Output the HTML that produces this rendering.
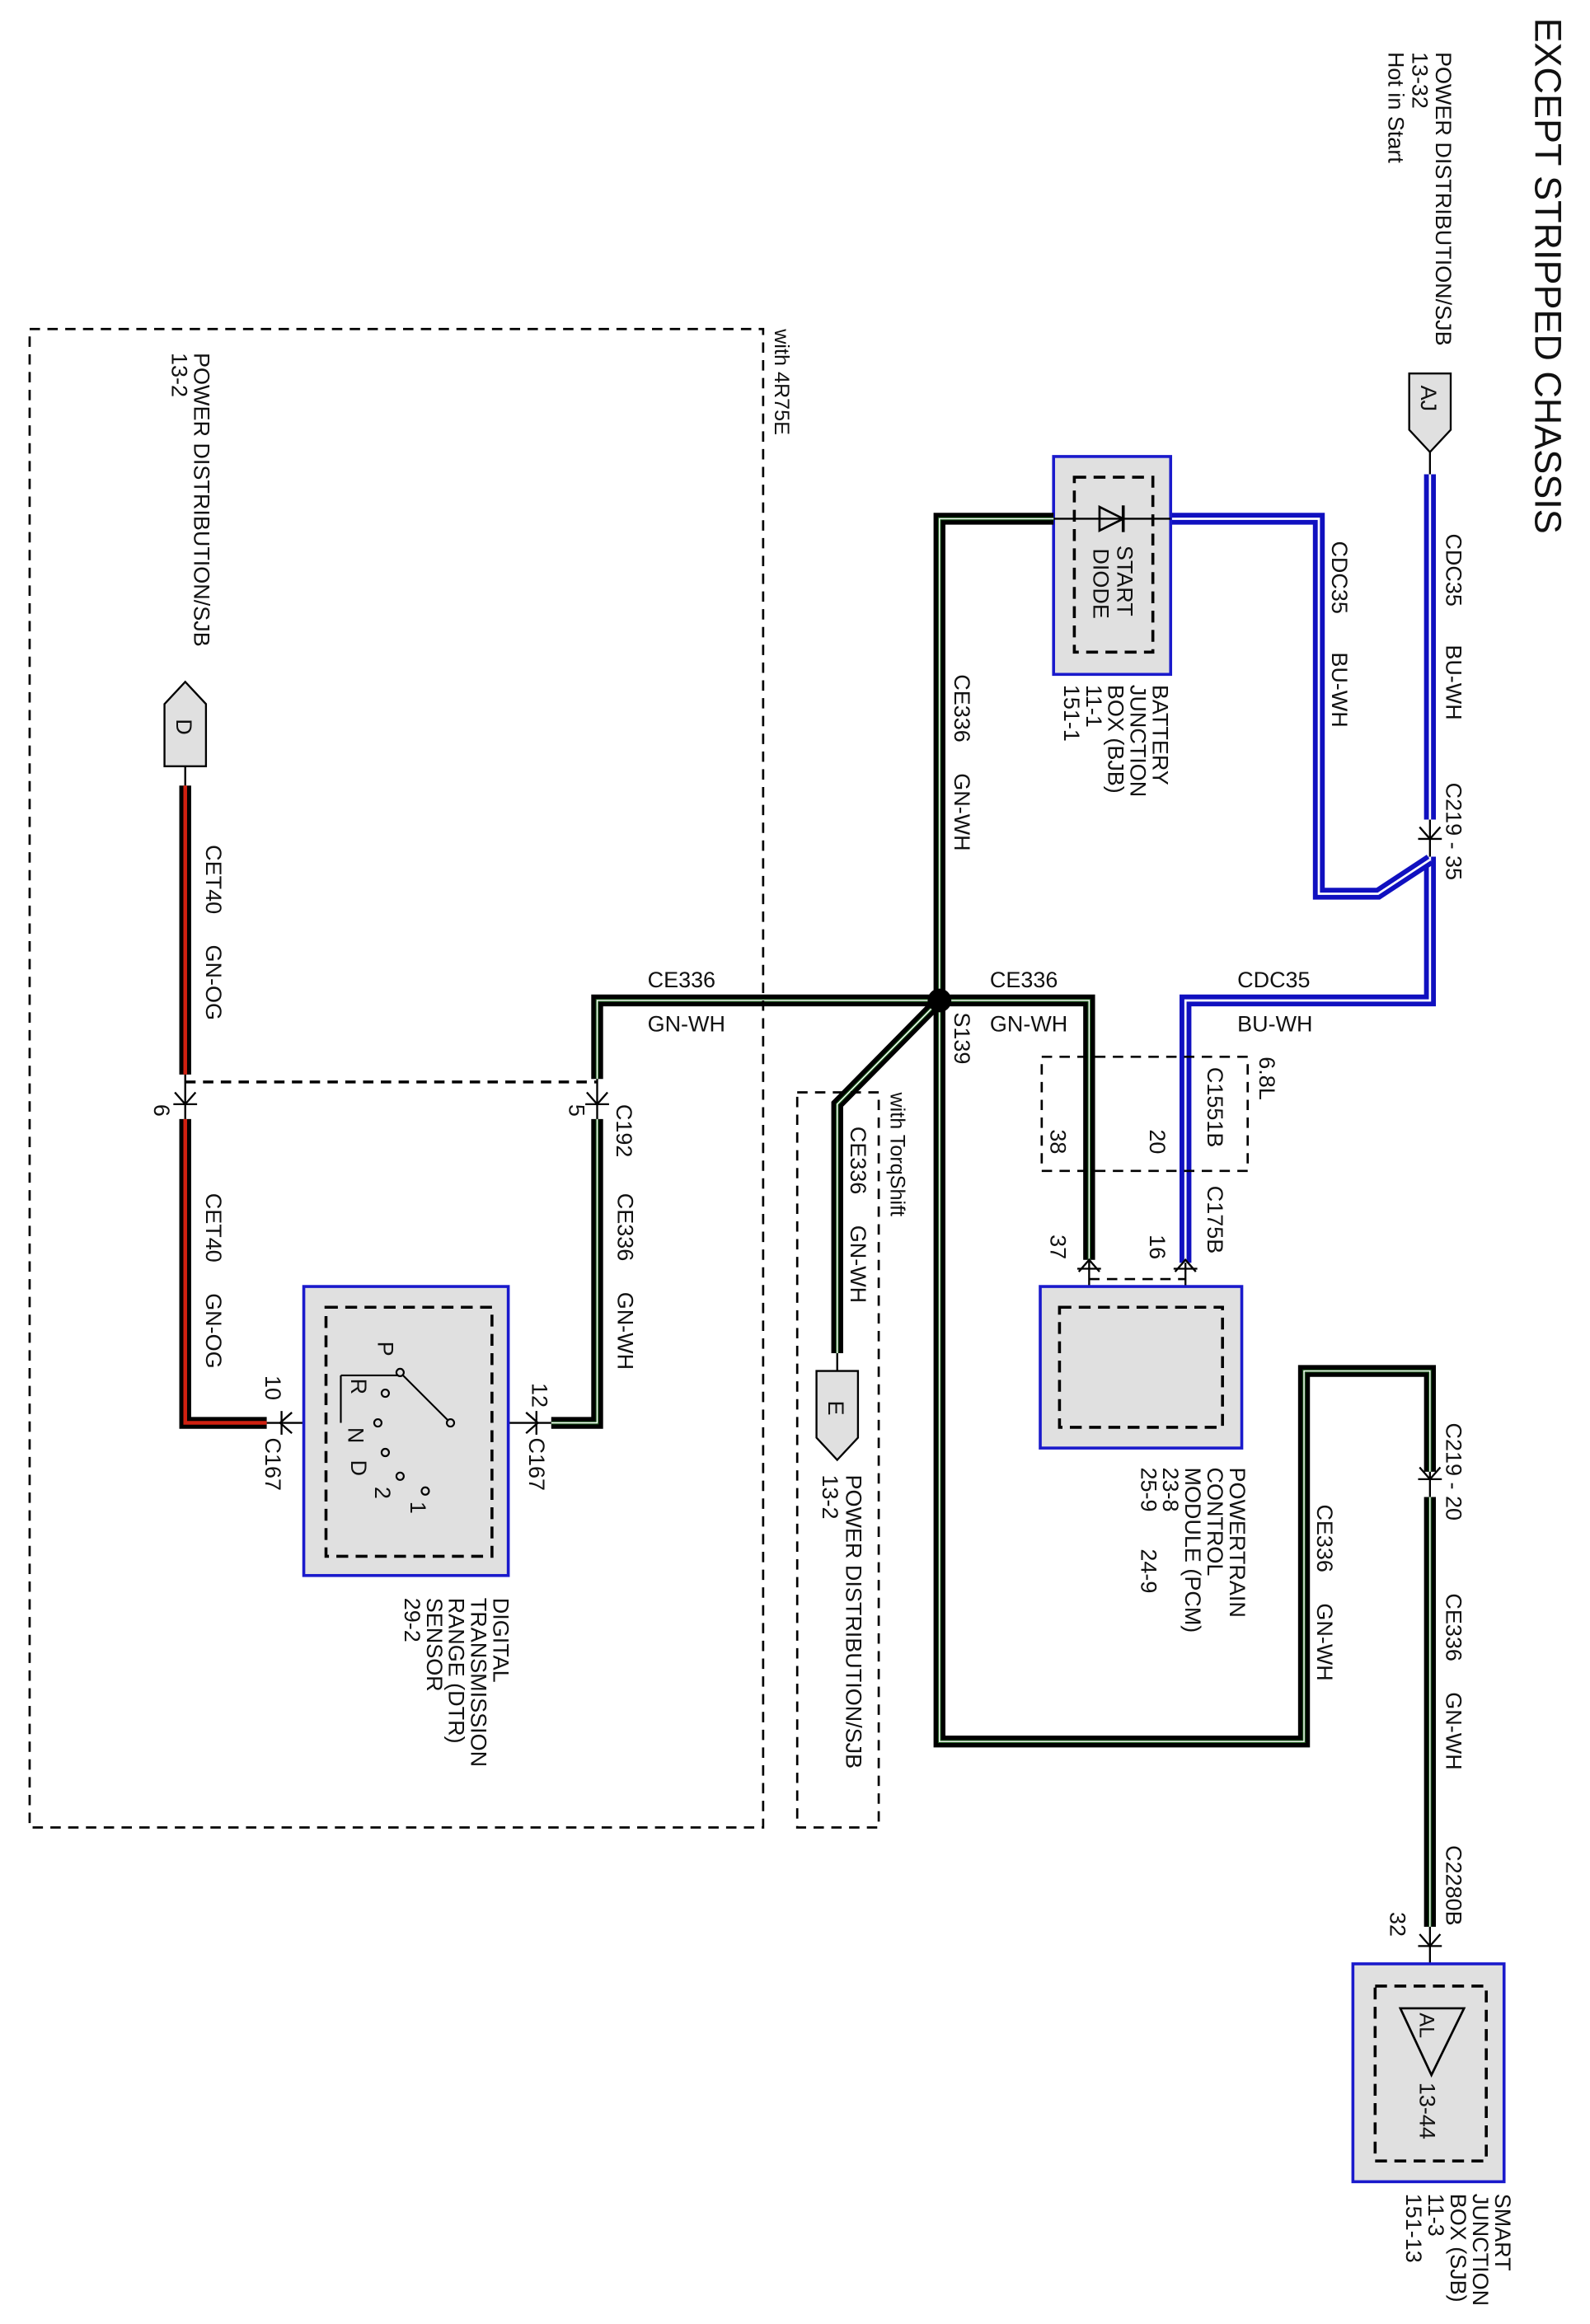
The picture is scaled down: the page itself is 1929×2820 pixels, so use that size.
<!DOCTYPE html>
<html><head><meta charset="utf-8"><style>
html,body{margin:0;padding:0;background:#fff}
svg{display:block}
text{font-family:"Liberation Sans",sans-serif;font-size:15px;fill:#111;white-space:pre}
.wb{fill:none;stroke:#000;stroke-width:8;stroke-linejoin:miter}
.wg{fill:none;stroke:#1f5f1f;stroke-width:2}
.wgw{fill:none;stroke:#fff;stroke-width:0.8}
.bb{fill:none;stroke:#1010c0;stroke-width:8}
.bw{fill:none;stroke:#fff;stroke-width:1.5}
.wr{fill:none;stroke:#d02010;stroke-width:2.5}
.d{fill:none;stroke:#000;stroke-width:1.5;stroke-dasharray:7,5}
.box{fill:#e0e0e0;stroke:#1a1acc;stroke-width:2}
.in{fill:none;stroke:#000;stroke-width:2;stroke-dasharray:8,5}
.t{fill:none;stroke:#000;stroke-width:1.3}
</style></head><body>
<svg width="1929" height="2820" viewBox="0 0 1073 1568" preserveAspectRatio="none" xmlns="http://www.w3.org/2000/svg" xml:space="preserve">
<rect width="1073" height="1568" fill="#fff"/>
<text transform="translate(1036,12) rotate(90)" style="font-size:25px">EXCEPT STRIPPED CHASSIS</text>
<text transform="translate(969,35) rotate(90)">POWER DISTRIBUTION/SJB</text>
<text transform="translate(953,35) rotate(90)">13-32</text>
<text transform="translate(937,35) rotate(90)">Hot in Start</text>
<path d="M951,252 H979 V290 L965,305 L951,290 Z" fill="#e0e0e0" stroke="#000" stroke-width="1.3"/>
<text transform="translate(959,260) rotate(90)">AJ</text>
<line x1="965" y1="305" x2="965" y2="320" class="t"/>
<path d="M965,320 V553" class="bb"/><path d="M965,320 V553" class="bw"/>
<path d="M965,578 V675 H800 V852" class="bb"/><path d="M965,578 V675 H800 V852" class="bw"/>
<path d="M790,350 H890 V603 H930 L965,580" class="bb"/><path d="M790,350 H890 V603 H930 L965,580" class="bw"/>
<line x1="965" y1="553" x2="965" y2="578" class="t"/>
<path d="M958,558 L965,566 L972,558" class="t"/><line x1="957" y1="566" x2="973" y2="566" class="t"/>
<text transform="translate(976,360) rotate(90)">CDC35</text>
<text transform="translate(976,435) rotate(90)">BU-WH</text>
<text transform="translate(976,528) rotate(90)">C219 - 35</text>
<text transform="translate(899,365) rotate(90)">CDC35</text>
<text transform="translate(899,440) rotate(90)">BU-WH</text>
<text x="835" y="666">CDC35</text>
<text x="835" y="696">BU-WH</text>
<rect x="711" y="308" width="79" height="147" class="box"/>
<rect x="725" y="322" width="53" height="118" class="in"/>
<line x1="711" y1="350" x2="790" y2="350" class="t"/>
<path d="M742,342 L758,350 L742,358 Z" fill="none" stroke="#000" stroke-width="1.5"/>
<line x1="758" y1="341" x2="758" y2="359" stroke="#000" stroke-width="2"/>
<text transform="translate(754,368) rotate(90)">START</text>
<text transform="translate(738,370) rotate(90)">DIODE</text>
<text transform="translate(778,462) rotate(90)">BATTERY</text>
<text transform="translate(763,462) rotate(90)">JUNCTION</text>
<text transform="translate(748,462) rotate(90)">BOX (BJB)</text>
<text transform="translate(733,462) rotate(90)">11-1</text>
<text transform="translate(718,462) rotate(90)">151-1</text>
<g>
<path d="M711,350 H634 V1175 H880 V925 H965 V993" class="wb"/><path d="M711,350 H634 V1175 H880 V925 H965 V993" class="wg"/><path d="M711,350 H634 V1175 H880 V925 H965 V993" class="wgw"/>
<path d="M965,1010 V1300" class="wb"/><path d="M965,1010 V1300" class="wg"/><path d="M965,1010 V1300" class="wgw"/>
<path d="M634,675 H735 V850" class="wb"/><path d="M634,675 H735 V850" class="wg"/><path d="M634,675 H735 V850" class="wgw"/>
<path d="M634,675 H403 V728" class="wb"/><path d="M634,675 H403 V728" class="wg"/><path d="M634,675 H403 V728" class="wgw"/>
<path d="M403,755 V960 H372" class="wb"/><path d="M403,755 V960 H372" class="wg"/><path d="M403,755 V960 H372" class="wgw"/>
<path d="M634,675 L565,745 V913" class="wb"/><path d="M634,675 L565,745 V913" class="wg"/><path d="M634,675 L565,745 V913" class="wgw"/>
</g>
<circle cx="634" cy="675" r="8" fill="#000"/>
<text transform="translate(644,455) rotate(90)">CE336     GN-WH</text>
<text transform="translate(644,683) rotate(90)">S139</text>
<text x="668" y="666">CE336</text><text x="668" y="696">GN-WH</text>
<text x="437" y="666">CE336</text><text x="437" y="696">GN-WH</text>
<line x1="965" y1="993" x2="965" y2="1010" class="t"/>
<path d="M958,990 L965,998 L972,990" class="t"/><line x1="957" y1="998" x2="973" y2="998" class="t"/>
<text transform="translate(976,960) rotate(90)">C219 - 20</text>
<text transform="translate(889,1015) rotate(90)">CE336     GN-WH</text>
<text transform="translate(976,1075) rotate(90)">CE336     GN-WH</text>
<text transform="translate(976,1245) rotate(90)">C2280B</text>
<text transform="translate(938,1290) rotate(90)">32</text>
<line x1="965" y1="1300" x2="965" y2="1355" class="t"/>
<path d="M958,1305 L965,1313 L972,1305" class="t"/><line x1="957" y1="1313" x2="973" y2="1313" class="t"/>
<rect x="913" y="1325" width="102" height="147" class="box"/>
<rect x="928" y="1340" width="75" height="118" class="in"/>
<path d="M945,1355 H988 L966,1400 Z" fill="none" stroke="#000" stroke-width="1.5"/>
<text transform="translate(958,1358) rotate(90)" style="font-size:14px">AL</text>
<text transform="translate(958,1405) rotate(90)">13-44</text>
<text transform="translate(1009,1480) rotate(90)">SMART</text>
<text transform="translate(994,1480) rotate(90)">JUNCTION</text>
<text transform="translate(979,1480) rotate(90)">BOX (SJB)</text>
<text transform="translate(964,1480) rotate(90)">11-3</text>
<text transform="translate(949,1480) rotate(90)">151-13</text>
<rect x="703" y="713" width="139" height="77" class="d"/>
<text transform="translate(850,713) rotate(90)">6.8L</text>
<text transform="translate(815,720) rotate(90)">C1551B</text>
<text transform="translate(776,762) rotate(90)">20</text>
<text transform="translate(709,762) rotate(90)">38</text>
<text transform="translate(815,800) rotate(90)">C175B</text>
<text transform="translate(776,833) rotate(90)">16</text>
<text transform="translate(709,833) rotate(90)">37</text>
<line x1="735" y1="850" x2="735" y2="882" class="t"/><line x1="800" y1="852" x2="800" y2="882" class="t"/>
<path d="M728,858 L735,850 L742,858" class="t"/><line x1="727" y1="856" x2="743" y2="856" class="t"/>
<path d="M793,858 L800,850 L807,858" class="t"/><line x1="792" y1="856" x2="808" y2="856" class="t"/>
<line x1="735" y1="863" x2="800" y2="863" class="d"/>
<rect x="702" y="868" width="136" height="109" class="box"/>
<rect x="715" y="882" width="110" height="81" class="in"/>
<text transform="translate(830,990) rotate(90)">POWERTRAIN</text>
<text transform="translate(815,990) rotate(90)">CONTROL</text>
<text transform="translate(800,990) rotate(90)">MODULE (PCM)</text>
<text transform="translate(785,990) rotate(90)">23-8</text>
<text transform="translate(770,1045) rotate(90)">24-9</text>
<text transform="translate(770,990) rotate(90)">25-9</text>
<rect x="538" y="737" width="55" height="496" class="d"/>
<text transform="translate(601,737) rotate(90)" style="font-size:14px">with TorqShift</text>
<text transform="translate(574,760) rotate(90)">CE336     GN-WH</text>
<line x1="565" y1="913" x2="565" y2="925" class="t"/>
<path d="M551,925 H579 V970 L565,985 L551,970 Z" fill="#e0e0e0" stroke="#000" stroke-width="1.3"/>
<text transform="translate(559,945) rotate(90)">E</text>
<text transform="translate(571,995) rotate(90)">POWER DISTRIBUTION/SJB</text>
<text transform="translate(555,995) rotate(90)">13-2</text>
<rect x="20" y="222" width="495" height="1011" class="d"/>
<text transform="translate(523,222) rotate(90)" style="font-size:14px">with 4R75E</text>
<text transform="translate(131,238) rotate(90)">POWER DISTRIBUTION/SJB</text>
<text transform="translate(116,238) rotate(90)">13-2</text>
<path d="M111,475 L125,460 L139,475 V517 H111 Z" fill="#e0e0e0" stroke="#000" stroke-width="1.3"/>
<text transform="translate(119,485) rotate(90)">D</text>
<line x1="125" y1="517" x2="125" y2="530" class="t"/>
<path d="M125,530 V725" class="wb"/><path d="M125,530 V725" class="wr"/>
<path d="M125,755 V960 H180" class="wb"/><path d="M125,755 V960 H180" class="wr"/>
<line x1="125" y1="725" x2="125" y2="755" class="t"/><line x1="403" y1="728" x2="403" y2="755" class="t"/>
<path d="M118,737 L125,745 L132,737" class="t"/><line x1="117" y1="745" x2="133" y2="745" class="t"/>
<path d="M396,737 L403,745 L410,737" class="t"/><line x1="395" y1="745" x2="411" y2="745" class="t"/>
<line x1="125" y1="730" x2="403" y2="730" stroke="#000" stroke-width="2" stroke-dasharray="7,5"/>
<text transform="translate(139,570) rotate(90)">CET40     GN-OG</text>
<text transform="translate(139,805) rotate(90)">CET40     GN-OG</text>
<text transform="translate(104,745) rotate(90)">6</text>
<text transform="translate(384,745) rotate(90)">5</text>
<text transform="translate(416,745) rotate(90)">C192</text>
<text transform="translate(417,805) rotate(90)">CE336     GN-WH</text>
<text transform="translate(359,933) rotate(90)">12</text>
<text transform="translate(357,970) rotate(90)">C167</text>
<text transform="translate(179,928) rotate(90)">10</text>
<text transform="translate(179,970) rotate(90)">C167</text>
<line x1="180" y1="960" x2="372" y2="960" class="t"/>
<path d="M197,953 L189,960 L197,967" class="t"/><line x1="190" y1="952" x2="190" y2="968" class="t"/>
<path d="M355,953 L363,960 L355,967" class="t"/><line x1="362" y1="952" x2="362" y2="968" class="t"/>
<rect x="205" y="868" width="138" height="195" class="box"/>
<rect x="220" y="882" width="112" height="168" class="in"/>
<g fill="#e0e0e0" stroke="#000" stroke-width="1.2">
<line x1="304" y1="960" x2="270" y2="926"/>
<line x1="230" y1="960" x2="230" y2="928"/><line x1="230" y1="928" x2="270" y2="928"/>
<circle cx="270" cy="926" r="2.5"/><circle cx="304" cy="960" r="2.5"/>
<circle cx="260" cy="940" r="2.5"/><circle cx="255" cy="960" r="2.5"/>
<circle cx="260" cy="980" r="2.5"/><circle cx="270" cy="996" r="2.5"/><circle cx="287" cy="1006" r="2.5"/>
</g>
<text transform="translate(255,905) rotate(90)">P</text>
<text transform="translate(237,930) rotate(90)">R</text>
<text transform="translate(235,963) rotate(90)">N</text>
<text transform="translate(237,985) rotate(90)">D</text>
<text transform="translate(253,1003) rotate(90)">2</text>
<text transform="translate(277,1013) rotate(90)">1</text>
<text transform="translate(333,1078) rotate(90)">DIGITAL</text>
<text transform="translate(318,1078) rotate(90)">TRANSMISSION</text>
<text transform="translate(303,1078) rotate(90)">RANGE (DTR)</text>
<text transform="translate(288,1078) rotate(90)">SENSOR</text>
<text transform="translate(273,1078) rotate(90)">29-2</text>
</svg>
</body></html>
